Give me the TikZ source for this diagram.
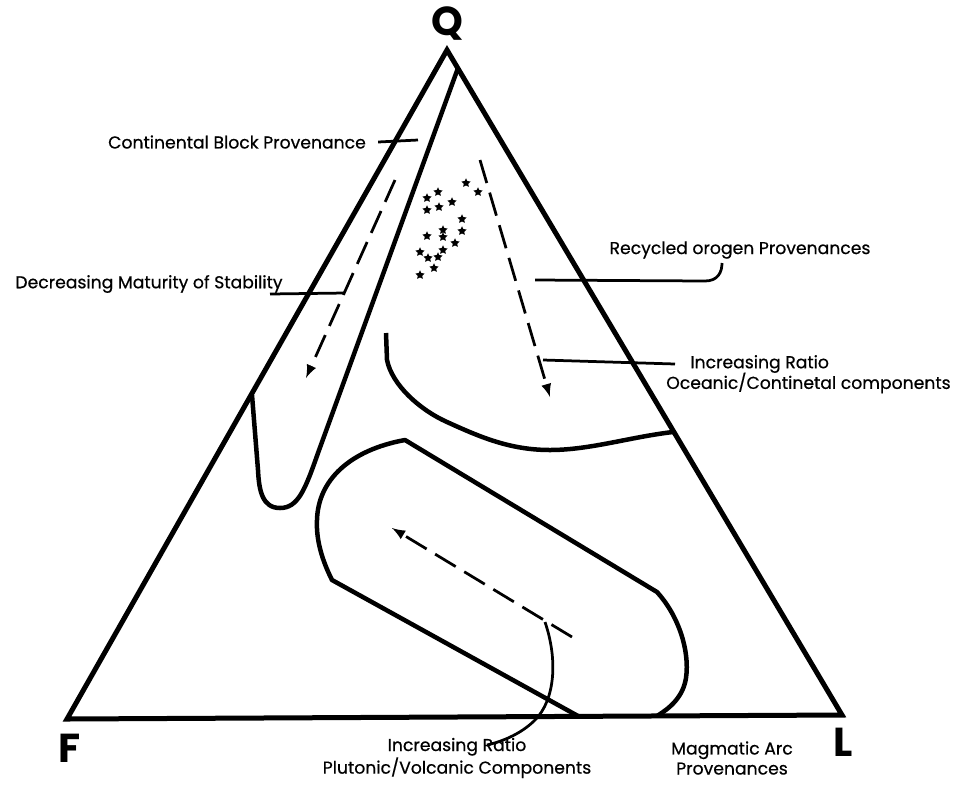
\documentclass[tikz,border=0pt]{standalone}
\usepackage{fontspec}
\setmainfont{Poppins}
\newfontfamily\lblfont[FakeBold=0.6]{Poppins}
\usetikzlibrary{arrows,shapes.geometric}

\tikzset{
  triside/.style={line width=1mm, line join=miter},
  bound/.style={line width=0.9mm, line join=round},
  leader/.style={line width=0.55mm},
  trend/.style={line width=0.55mm, dash pattern=on 4.8mm off 2mm, -latex},
  grain/.style={star, star points=5, star point ratio=2, fill=black, inner sep=0pt, minimum size=1.9mm},
  lbl/.style={font=\lblfont\fontsize{9.8}{11.4}\selectfont, inner sep=0pt},
  corner/.style={font=\fontsize{23}{23}\selectfont\bfseries, inner sep=0pt}
}

\begin{document}
\begin{tikzpicture}[x=0.2mm,y=-0.2mm]
\useasboundingbox (0,0) rectangle (957,796);

% QFL triangle
\coordinate (q) at (447,50);
\coordinate (f) at (67,719);
\coordinate (l) at (842,715);
\draw [triside] (q) -- (f) -- (l) -- cycle;

\node [corner] (qlab) at (447,24) {Q};
\node [corner] (flab) at (70,748) {F};
\node [corner] (llab) at (843,742) {L};

% continental block strip
\draw [bound] (458,68) -- (318,453) .. controls (305,490) and (298,508) .. (280,508)
   .. controls (262,508) and (259,490) .. (258,470) -- (252,395);

% recycled orogen boundary
\draw [bound] (386,333) -- (387,360) .. controls (392,385) and (420,410) .. (447,422)
   .. controls (480,437) and (510,450) .. (550,450)
   .. controls (590,450) and (630,437) .. (673,432);

% magmatic arc field
\draw [bound] (578,716) -- (332,580) .. controls (322,560) and (316,540) .. (317,520)
   .. controls (318,480) and (350,450) .. (405,440) -- (657,592)
   .. controls (678,615) and (690,650) .. (686,678)
   .. controls (683,697) and (670,708) .. (657,716);

% quartzose grains
\foreach \x/\y in {466/183,478/192,438/192,427/198,452/202,439/207,427/210,
                   462/219,443/230,462/231,443/237,427/236,455/243,443/250,
                   420/252,428/258,438/257,434/268,420/275}
  \node [grain] at (\x,\y) {};

% trends
\draw [trend] (395,180) -- (306,378);
\draw [trend] (480,160) -- (550,397);
\draw [trend] (572,637) -- (392,528);

% labels
\node [lbl] (cbp) at (237,142) {Continental Block Provenance};
\node [lbl] (dms) at (149,284) {Decreasing Maturity of Stability};
\node [lbl] (rop) at (740,250) {Recycled orogen Provenances};
\node [lbl,anchor=west] (iro1) at (690,364) {Increasing Ratio};
\node [lbl,anchor=east] (iro2) at (951,383) {Oceanic/Continetal components};
\node [lbl,align=center] (irp) at (457,758) {Increasing Ratio\\Plutonic/Volcanic Components};
\node [lbl,align=center] (mag) at (732,758) {Magmatic Arc\\Provenances};

% leaders
\coordinate (cbp-end) at (418,140);
\coordinate (dms-a) at (270,294);
\coordinate (dms-b) at (345,293);
\coordinate (rop-a) at (535,280);
\coordinate (iro-a) at (543,360);
\coordinate (irp-a) at (545,622);
\draw [leader] ([xshift=2.4mm]cbp.east) -- (cbp-end);
\draw [leader] (dms-a) -- (dms-b);
\draw [leader] (rop-a) -- (705,281) .. controls (718,281) and (722,272) .. (722,263);
\draw [leader] (iro-a) -- ([xshift=-3mm]iro1.west);
\draw [leader] (irp-a) .. controls (558,660) and (555,700) .. (535,720)
   .. controls (520,735) and (500,742) .. (487,745);
\end{tikzpicture}
\end{document}
